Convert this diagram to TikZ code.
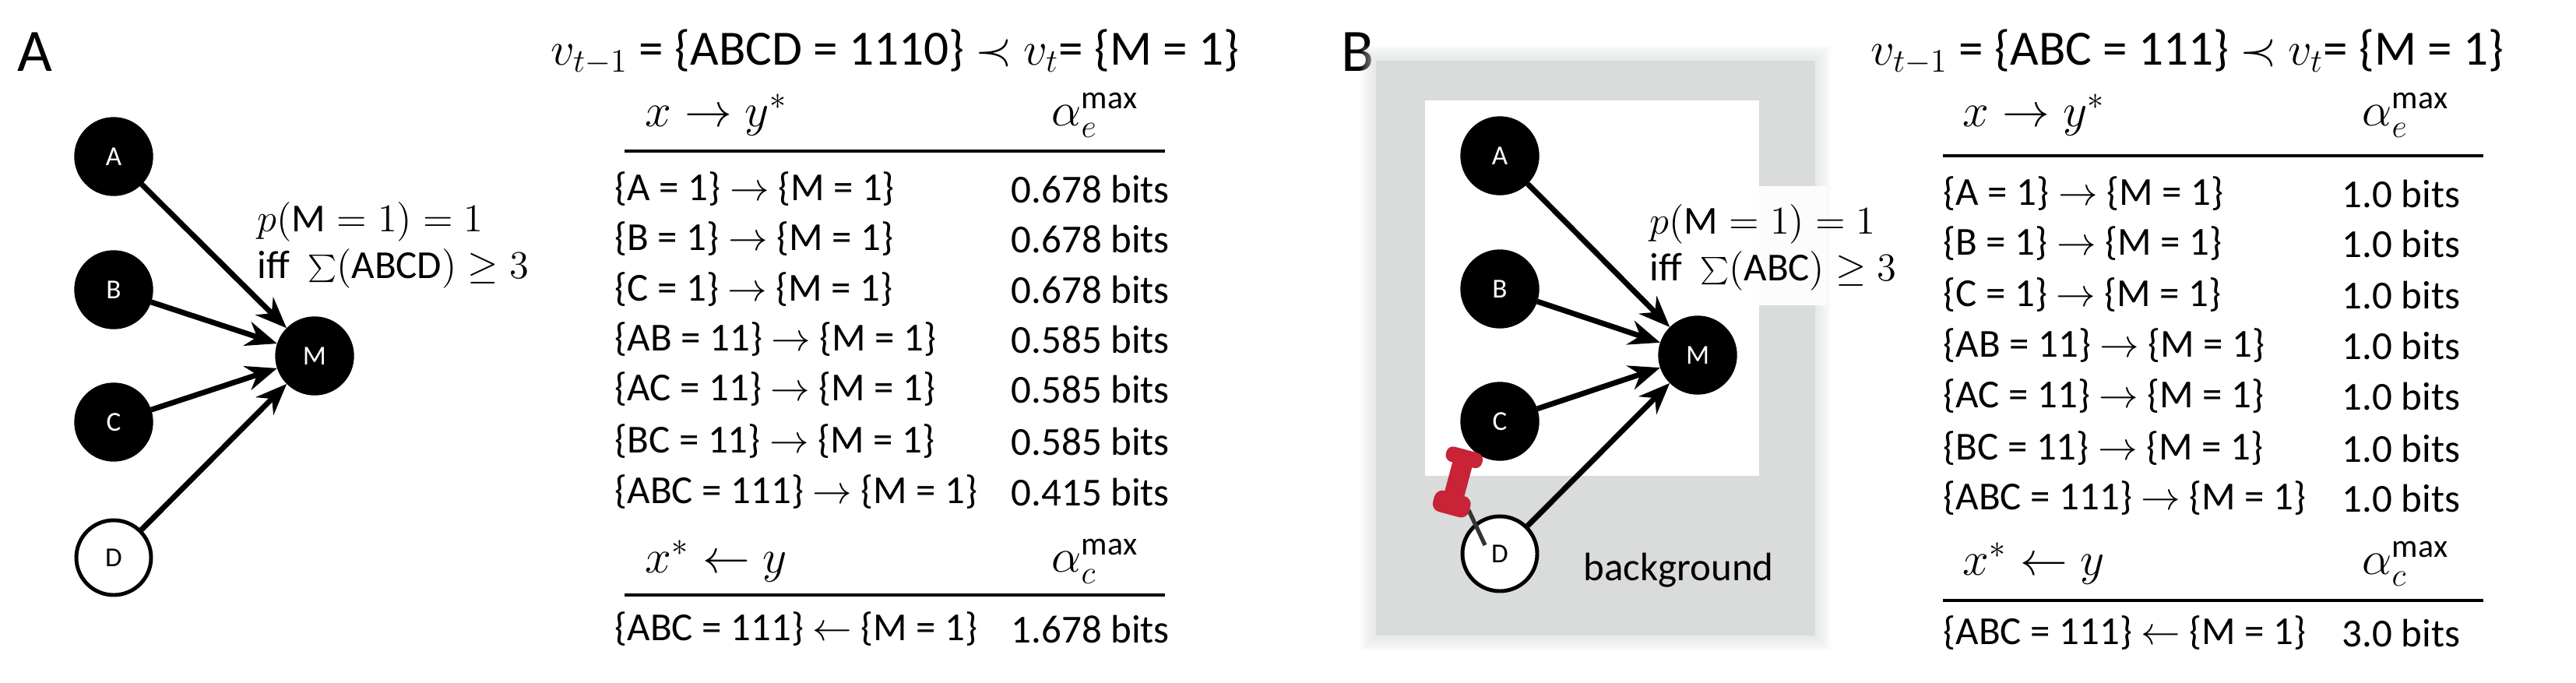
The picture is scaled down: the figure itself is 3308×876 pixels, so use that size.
\documentclass[tikz,border=0pt]{standalone}
\usepackage{fontspec}
\setmainfont{Carlito}
\usetikzlibrary{arrows.meta}
\definecolor{pinred}{RGB}{200,35,55}
\definecolor{bggray}{RGB}{218,220,220}
\tikzset{
  blk/.style={circle,fill=black,draw=black,minimum size=10mm,inner sep=0pt,text=white,font=\fontsize{10}{12}\selectfont},
  wht/.style={circle,fill=white,draw=black,line width=1.4pt,minimum size=9.6mm,inner sep=0pt,font=\fontsize{10}{12}\selectfont},
  edge/.style={line width=2pt,-{Stealth[length=4mm,width=3.2mm]}},
  row/.style={anchor=west,inner sep=0pt,font=\fontsize{14.5}{16}\selectfont},
  ttl/.style={anchor=west,inner sep=0pt,font=\fontsize{18}{20}\selectfont},
  hdr/.style={anchor=west,inner sep=0pt,font=\fontsize{17}{20}\selectfont},
  lbl/.style={anchor=west,inner sep=0pt,font=\fontsize{22}{24}\selectfont},
  cond/.style={anchor=west,inner sep=0pt,align=left,font=\fontsize{14.5}{17}\selectfont},
  rule/.style={line width=1.3pt}
}
\begin{document}
\begin{tikzpicture}[x=0.1mm,y=-0.1mm]
\useasboundingbox (0,0) rectangle (3308,876);
% ---------- Panel A ----------
\node[lbl] (LA) at (22,67) {A};
\node[blk] (A1) at (146,201) {A};
\node[blk] (B1) at (146,372) {B};
\node[blk] (C1) at (146,542) {C};
\node[wht] (D1) at (146,716) {D};
\node[blk] (M1) at (404,457) {M};
\foreach \n in {A1,B1,C1,D1} \draw[edge] (\n) -- (M1);
\node[cond] (cA) at (330,315) {$p(\mathrm{M}=1)=1$\\iff\ \ $\sum(\mathrm{ABCD})\geq 3$};
\node[ttl] (tA) at (707,67) {$v_{t-1}$ = \{ABCD = 1110\} $\prec$ $v_t$= \{M = 1\}};
\node[hdr] (hA1) at (828,148) {$x\rightarrow y^*$};
\node[hdr] (aA1) at (1350,148) {$\alpha_e^{\max}$};
\coordinate (lA1s) at (802,194); \coordinate (lA1e) at (1496,194);
\draw[rule] (lA1s) -- (lA1e);
\foreach \y/\t/\v in {243/{\{A = 1\} $\rightarrow$ \{M = 1\}}/0.678,307/{\{B = 1\} $\rightarrow$ \{M = 1\}}/0.678,372/{\{C = 1\} $\rightarrow$ \{M = 1\}}/0.678,436/{\{AB = 11\} $\rightarrow$ \{M = 1\}}/0.585,500/{\{AC = 11\} $\rightarrow$ \{M = 1\}}/0.585,567/{\{BC = 11\} $\rightarrow$ \{M = 1\}}/0.585,632/{\{ABC = 111\} $\rightarrow$ \{M = 1\}}/0.415}{
  \node[row] (rA\y) at (789,\y) {\t};
  \node[row] (vA\y) at (1298,\y) {\v\ bits};
}
\node[hdr] (hA2) at (828,721) {$x^*\leftarrow y$};
\node[hdr] (aA2) at (1350,721) {$\alpha_c^{\max}$};
\coordinate (lA2s) at (802,764); \coordinate (lA2e) at (1496,764);
\draw[rule] (lA2s) -- (lA2e);
\node[row] (rA9) at (789,808) {\{ABC = 111\} $\leftarrow$ \{M = 1\}};
\node[row] (vA9) at (1298,808) {1.678 bits};
% ---------- Panel B ----------
\node[lbl] (LB) at (1722,67) {B};
\foreach \o in {20,18,...,2} \fill[bggray,opacity=0.09] (1767-\o,78-\o) rectangle (2331+\o,816+\o);
\fill[bggray] (1767,78) rectangle (2331,816);
\fill[white] (1830,129) rectangle (2259,611);
\fill[white!92!bggray] (2259,239) rectangle (2346,392);
\node[blk] (A2) at (1926,200) {A};
\node[blk] (B2) at (1926,371) {B};
\node[blk] (C2) at (1926,541) {C};
\node[wht] (D2) at (1926,711) {D};
\node[blk] (M2) at (2180,456) {M};
\foreach \n in {A2,B2,C2,D2} \draw[edge] (\n) -- (M2);
\node[cond] (cB) at (2118,318) {$p(\mathrm{M}=1)=1$\\iff\ \ $\sum(\mathrm{ABC})\geq 3$};
\node[anchor=west,inner sep=0pt,font=\fontsize{14.5}{16}\selectfont] (bgl) at (2033,732) {background};
% push pin
\coordinate (pinTip) at (1907,700);
\draw[line width=1.5pt,black!80] (1886,655) -- (pinTip);
\begin{scope}[shift={(1871,622)},rotate=-15]
\fill[pinred,rounded corners=2.5pt] (-24,-46) rectangle (24,-26);
\fill[pinred] (-13,-32) rectangle (13,20);
\fill[pinred,rounded corners=3pt] (-24,12) rectangle (24,40);
\end{scope}
\node[ttl] (tB) at (2402,67) {$v_{t-1}$ = \{ABC = 111\} $\prec$ $v_t$= \{M = 1\}};
\node[hdr] (hB1) at (2520,148) {$x\rightarrow y^*$};
\node[hdr] (aB1) at (3033,148) {$\alpha_e^{\max}$};
\coordinate (lB1s) at (2495,200); \coordinate (lB1e) at (3189,200);
\draw[rule] (lB1s) -- (lB1e);
\foreach \y/\t in {249/{\{A = 1\} $\rightarrow$ \{M = 1\}},313/{\{B = 1\} $\rightarrow$ \{M = 1\}},379/{\{C = 1\} $\rightarrow$ \{M = 1\}},444/{\{AB = 11\} $\rightarrow$ \{M = 1\}},509/{\{AC = 11\} $\rightarrow$ \{M = 1\}},576/{\{BC = 11\} $\rightarrow$ \{M = 1\}},640/{\{ABC = 111\} $\rightarrow$ \{M = 1\}}}{
  \node[row] (rB\y) at (2495,\y) {\t};
  \node[row] (vB\y) at (3007,\y) {1.0 bits};
}
\node[hdr] (hB2) at (2520,724) {$x^*\leftarrow y$};
\node[hdr] (aB2) at (3033,724) {$\alpha_c^{\max}$};
\coordinate (lB2s) at (2495,771); \coordinate (lB2e) at (3189,771);
\draw[rule] (lB2s) -- (lB2e);
\node[row] (rB9) at (2495,813) {\{ABC = 111\} $\leftarrow$ \{M = 1\}};
\node[row] (vB9) at (3007,813) {3.0 bits};
\end{tikzpicture}
\end{document}
